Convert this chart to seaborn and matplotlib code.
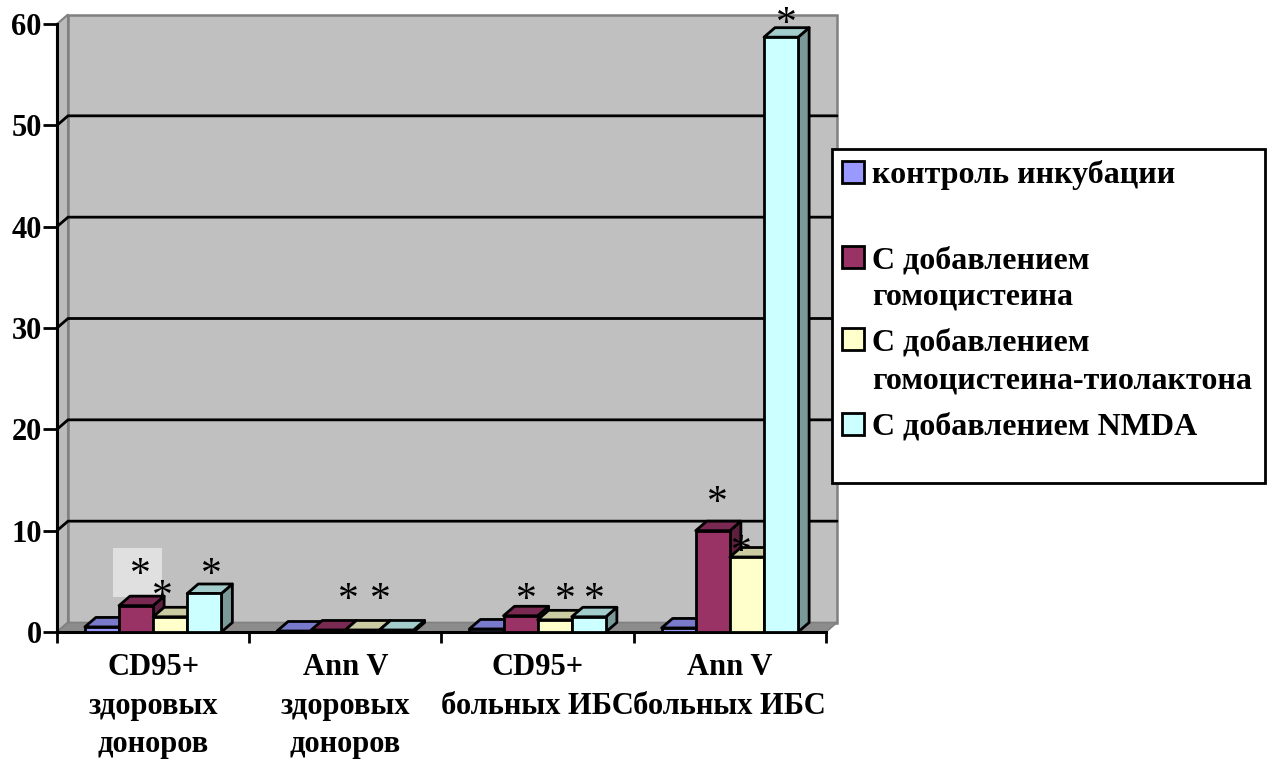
import numpy as np
import pandas as pd
import matplotlib
matplotlib.use("Agg")
import matplotlib.pyplot as plt
import matplotlib.transforms as mtransforms
from matplotlib.patches import Polygon, Rectangle
from matplotlib.lines import Line2D
import seaborn as sns

# ---- data -------------------------------------------------------------
categories = ["CD95+\nздоровых\nдоноров", "Ann V\nздоровых\nдоноров",
              "CD95+\nбольных ИБС", "Ann V\nбольных ИБС"]
series_names = ["контроль инкубации",
                "С добавлением\nгомоцистеина",
                "С добавлением\nгомоцистеина-тиолактона",
                "С добавлением NMDA"]
control = [0.5, 0.1, 0.3, 0.4]
homocysteine = [2.6, 0.2, 1.6, 10.0]
thiolactone = [1.5, 0.2, 1.2, 7.4]
nmda = [3.8, 0.2, 1.5, 58.7]
y_ticks = [0, 10, 20, 30, 40, 50, 60]
# bars marked as significant: (category index, series index)
starred = [(0, 1), (0, 2), (0, 3), (1, 2), (1, 3),
           (2, 1), (2, 2), (2, 3), (3, 1), (3, 2), (3, 3)]

# ---- style --------------------------------------------------------------
front_colors = ["#9999FF", "#993366", "#FFFFCC", "#CCFFFF"]
TOP_SHADE, SIDE_SHADE = 0.8, 0.6
DX, DY = 11, 9.5            # depth offset of the 3-D look, pixels
FS = 23                     # legend text size
AXIS_FS = 22                # tick label size
STAR_FS = 30
STAR_DROP = 7
# star placement tweaks (pixels: right, up from bar's top-back edge)
star_nudge = {(0, 1): (-1, 27), (0, 2): (-13, 17), (0, 3): (2, 15),
              (1, 2): (-20, 27), (1, 3): (-22, 27),
              (2, 1): (0, 13), (2, 2): (5, 17), (2, 3): (0, 14),
              (3, 1): (-1, 24), (3, 2): (-11, 2), (3, 3): (0, 10)}

sns.set_theme(style="white")
plt.rcParams["font.family"] = ["Liberation Serif", "DejaVu Serif"]
plt.rcParams["font.weight"] = "bold"
for key in ["text.color", "axes.labelcolor", "xtick.color", "ytick.color"]:
    plt.rcParams[key] = "black"

W, H = 1272, 761
fig = plt.figure(figsize=(W / 100, H / 100), dpi=100)
fig.patch.set_facecolor("white")
ax = fig.add_axes([57 / W, (H - 632) / H, (826 - 57) / W, (632 - 24) / H])
ax.set_facecolor("none")

rows = []
for name, vals in zip(series_names, [control, homocysteine, thiolactone, nmda]):
    for cat, v in zip(categories, vals):
        rows.append((cat, name, v))
df = pd.DataFrame(rows, columns=["category", "series", "value"])

BAR_GROUP_W = 0.71
sns.barplot(data=df, x="category", y="value", hue="series",
            order=categories, hue_order=series_names, palette=front_colors,
            saturation=1, width=BAR_GROUP_W, gap=0, edgecolor="black",
            linewidth=2, legend=False, errorbar=None, ax=ax)

ax.set_xlim(-0.5, 3.5)
ax.set_ylim(0, 60)
ax.set_autoscale_on(False)
ident = mtransforms.IdentityTransform()


def px(x, y):
    return np.asarray(ax.transData.transform((x, y)), dtype=float)


off = np.array([DX, DY])

# ---- walls, floor and gridlines ------------------------------------------
bl, br, tl, tr = px(-0.5, 0), px(3.5, 0), px(-0.5, 60), px(3.5, 60)
ax.add_patch(Polygon([bl + off, br + off, tr + off, tl + off], closed=True,
                     fc="#C0C0C0", ec="#808080", lw=1.8, transform=ident,
                     clip_on=False, zorder=0.5))
ax.add_patch(Polygon([bl, bl + off, tl + off, tl], closed=True,
                     fc="#BBBBBB", ec="#808080", lw=1.5, transform=ident,
                     clip_on=False, zorder=0.6))
ax.add_patch(Polygon([bl, br, br + off, bl + off], closed=True,
                     fc="#8C8C8C", ec="#808080", lw=1.2, transform=ident,
                     clip_on=False, zorder=0.6))
for v in y_ticks[1:-1]:
    a, b = px(-0.5, v), px(3.5, v)
    ax.add_line(Line2D([a[0], a[0] + DX, b[0] + DX], [a[1], a[1] + DY, b[1] + DY],
                       color="black", lw=2, transform=ident, clip_on=False,
                       zorder=0.9))

# ---- 3-D bar faces -------------------------------------------------------
bars = sorted([p for p in ax.patches if isinstance(p, Rectangle)
               and p.get_width() < 0.5], key=lambda p: p.get_x())
bar_lookup = {}
slot = BAR_GROUP_W / len(series_names)
for k, p in enumerate(bars):
    x0, w, h = p.get_x(), p.get_width(), p.get_height()
    xc = x0 + w / 2
    ci = int(round(xc))
    si = int(round((xc - ci + BAR_GROUP_W / 2 - slot / 2) / slot))
    bar_lookup[(ci, si)] = p
    base = np.array(matplotlib.colors.to_rgb(front_colors[si]))
    z = 3 + k * 0.01
    fl, fr, ftl, ftr = px(x0, 0), px(x0 + w, 0), px(x0, h), px(x0 + w, h)
    ax.add_patch(Polygon([fr, fr + off, ftr + off, ftr], closed=True,
                         fc=base * SIDE_SHADE, ec="black", lw=2,
                         joinstyle="round", transform=ident, clip_on=False,
                         zorder=z))
    ax.add_patch(Polygon([ftl, ftr, ftr + off, ftl + off], closed=True,
                         fc=base * TOP_SHADE, ec="black", lw=2,
                         joinstyle="round", transform=ident, clip_on=False,
                         zorder=z + 0.001))
    p.set_zorder(z + 0.002)
    p.set_joinstyle("round")

# ---- significance marks --------------------------------------------------
for key in starred:
    p = bar_lookup[key]
    nx, up = star_nudge[key]
    top = px(p.get_x() + p.get_width() / 2, p.get_height())
    cx, cy = top[0] + DX / 2 + nx, top[1] + DY + up - STAR_DROP
    if key == (0, 1):
        ax.add_patch(Rectangle((cx - 28, cy - 21), 49, 49, fc="#E0E0E0",
                               ec="none", transform=ident, clip_on=False,
                               zorder=2.9))
    ax.text(cx, cy, "*", transform=ident, ha="center", va="center",
            fontsize=STAR_FS, fontweight="normal", color="black",
            zorder=10, clip_on=False)

# ---- axes ----------------------------------------------------------------
for s in ["top", "right"]:
    ax.spines[s].set_visible(False)
for s in ["left", "bottom"]:
    ax.spines[s].set_color("black")
    ax.spines[s].set_linewidth(2.2)
    ax.spines[s].set_zorder(2.5)
ax.set_yticks(y_ticks)
ax.set_yticklabels([str(t) for t in y_ticks])
ax.set_xticks(range(len(categories)))
ax.set_xticklabels(categories, linespacing=1.44)
ax.set_xticks(np.arange(-0.5, 4.0, 1.0), minor=True)
ax.tick_params(axis="y", which="major", direction="out", length=10, width=2,
               color="black", labelsize=AXIS_FS, pad=1, left=True)
ax.tick_params(axis="x", which="major", length=0, labelsize=AXIS_FS, pad=15)
ax.tick_params(axis="x", which="minor", direction="out", length=8, width=2,
               color="black", bottom=True)
ax.set_xlabel("")
ax.set_ylabel("")
ax.grid(False)

# ---- legend --------------------------------------------------------------
fig.add_artist(Rectangle((832, H - 483), 433, 334, fc="white", ec="black",
                         lw=2, transform=ident))
legend_baselines = [[183], [268, 305], [350, 388], [435]]
for name, color, lines in zip(series_names, front_colors, legend_baselines):
    fig.add_artist(Rectangle((842, H - lines[0]), 22, 22, fc=color,
                             ec="black", lw=2, transform=ident))
    for text, yb in zip(name.split("\n"), lines):
        fig.text(872, H - yb, text, transform=ident, fontsize=FS,
                 fontweight="bold", va="baseline", ha="left")

fig.savefig("out.png", dpi=100, facecolor="white")
